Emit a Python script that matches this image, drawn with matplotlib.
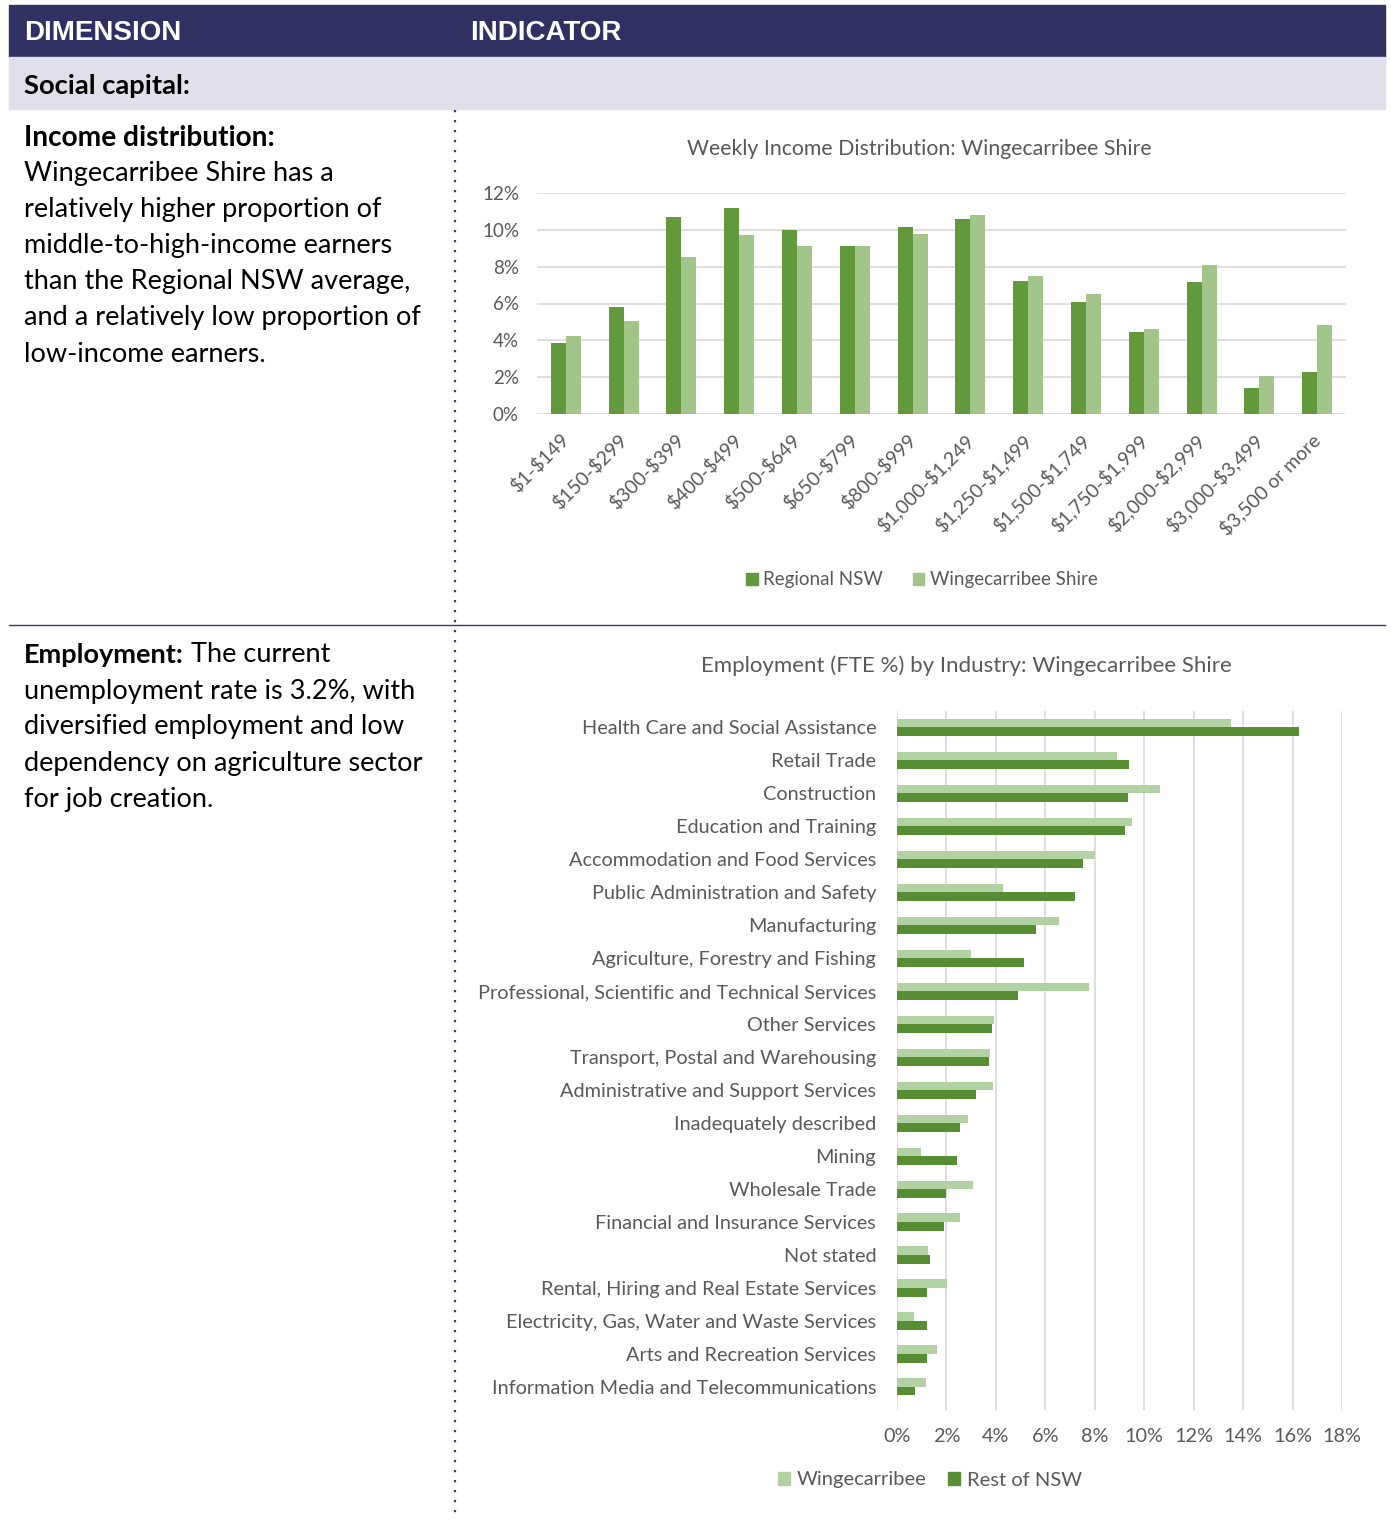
import matplotlib
matplotlib.use("Agg")
import matplotlib.pyplot as plt
import matplotlib.transforms as mtransforms
from matplotlib.patches import Patch, Rectangle
from matplotlib.lines import Line2D
import numpy as np

plt.rcParams["text.parse_math"] = False

W, H = 1391, 1520

# income data (% of households)
income_bands = ["$1-$149", "$150-$299", "$300-$399", "$400-$499", "$500-$649", "$650-$799",
                "$800-$999", "$1,000-$1,249", "$1,250-$1,499", "$1,500-$1,749", "$1,750-$1,999",
                "$2,000-$2,999", "$3,000-$3,499", "$3,500 or more"]
regional_nsw = [3.84, 5.83, 10.68, 11.2, 9.99, 9.14, 10.14, 10.59, 7.24, 6.06, 4.45, 7.15, 1.41, 2.28]
wingecarribee_shire = [4.25, 5.07, 8.52, 9.72, 9.12, 9.14, 9.77, 10.79, 7.47, 6.53, 4.60, 8.11, 2.05, 4.83]

# employment data (FTE %)
industries = ["Health Care and Social Assistance", "Retail Trade", "Construction",
              "Education and Training", "Accommodation and Food Services",
              "Public Administration and Safety", "Manufacturing",
              "Agriculture, Forestry and Fishing", "Professional, Scientific and Technical Services",
              "Other Services", "Transport, Postal and Warehousing",
              "Administrative and Support Services", "Inadequately described", "Mining",
              "Wholesale Trade", "Financial and Insurance Services", "Not stated",
              "Rental, Hiring and Real Estate Services", "Electricity, Gas, Water and Waste Services",
              "Arts and Recreation Services", "Information Media and Telecommunications"]
emp_wingecarribee = [13.5, 8.89, 10.65, 9.51, 8.02, 4.29, 6.55, 2.98, 7.75, 3.92, 3.75, 3.88,
                     2.86, 0.97, 3.06, 2.55, 1.25, 2.01, 0.67, 1.63, 1.17]
emp_rest_nsw = [16.27, 9.38, 9.35, 9.23, 7.51, 7.18, 5.61, 5.12, 4.88, 3.83, 3.71, 3.19,
                2.53, 2.43, 1.97, 1.91, 1.35, 1.23, 1.23, 1.20, 0.74]

navy = "#303062"
grey_txt = "#595959"
dark_g = "#62993d"
light_g = "#a2c58a"
emp_light = "#b3d2a3"
emp_dark = "#578e34"
body_font = "Lato"


def fx(x):
    return x / W


def fy(y):
    return 1 - y / H


def rect(l, t, r, b):
    return [l / W, 1 - b / H, (r - l) / W, (b - t) / H]


fig = plt.figure(figsize=(W / 100, H / 100), dpi=100)

# header bands
fig.patches.append(Rectangle((fx(9), fy(57)), (1385 - 9) / W, 52 / H, transform=fig.transFigure,
                             color=navy, zorder=0))
fig.patches.append(Rectangle((fx(9), fy(109)), (1385 - 9) / W, 52 / H, transform=fig.transFigure,
                             color="#dfe0e9", zorder=0))
fig.text(fx(24), fy(33), "DIMENSION", color="white", fontsize=20, fontweight="bold",
         family="Liberation Sans", va="center")
fig.text(fx(470), fy(33), "INDICATOR", color="white", fontsize=20, fontweight="bold",
         family="Liberation Sans", va="center")
fig.text(fx(24), fy(86), "Social capital:", color="black", fontsize=19.7, fontweight="bold",
         family=body_font, va="center")

# separators
fig.add_artist(Line2D([fx(455), fx(455)], [fy(110), fy(1520)], color="#3a3a7c", lw=1.6,
                      linestyle=(0, (1, 3.5))))
fig.add_artist(Line2D([fx(9), fx(1385)], [fy(625), fy(625)], color="#3a3a70", lw=1))

# left column text
fs_body = 19.5
fig.text(fx(24), fy(138), "Income distribution:", fontsize=20.2, fontweight="bold",
         family=body_font, va="center")
income_lines = ["Wingecarribee Shire has a", "relatively higher proportion of",
                "middle-to-high-income earners", "than the Regional NSW average,",
                "and a relatively low proportion of", "low-income earners."]
for i, s in enumerate(income_lines):
    fig.text(fx(24), fy(174 + 36 * i), s, fontsize=fs_body, family=body_font, va="center")

t = fig.text(fx(24), fy(655), "Employment:", fontsize=fs_body, fontweight="bold",
             family=body_font, va="center")
fig.canvas.draw()
bb = t.get_window_extent()
fig.text(bb.x1 / W, fy(655), " The current", fontsize=fs_body, family=body_font, va="center")
emp_lines = ["unemployment rate is 3.2%, with", "diversified employment and low",
             "dependency on agriculture sector", "for job creation."]
for i, s in enumerate(emp_lines):
    fig.text(fx(24), fy(691 + 36 * i), s, fontsize=fs_body, family=body_font, va="center")

# income chart
ax1 = fig.add_axes(rect(537, 193, 1346, 414))
x = np.arange(len(income_bands))
ax1.bar(x - 0.13, regional_nsw, width=0.26, color=dark_g, label="Regional NSW", zorder=3)
ax1.bar(x + 0.13, wingecarribee_shire, width=0.26, color=light_g, label="Wingecarribee Shire", zorder=3)
ax1.set_xlim(-0.5, len(income_bands) - 0.5)
ax1.set_ylim(0, 12)
ax1.set_yticks(range(0, 13, 2))
ax1.set_yticklabels([f"{v}%" for v in range(0, 13, 2)])
ax1.yaxis.grid(True, color="#d9d9d9", lw=1.2, zorder=0)
ax1.set_xticks(x)
ax1.set_xticklabels(income_bands, rotation=45, ha="right", va="top", rotation_mode="anchor")
ax1.tick_params(axis="both", length=0, labelcolor=grey_txt, labelsize=13.5)
ax1.tick_params(axis="x", pad=12, labelsize=14)
ax1.tick_params(axis="y", pad=13)
shift = mtransforms.ScaledTranslation(-6 / 100, 0, fig.dpi_scale_trans)
for lab in ax1.get_xticklabels():
    lab.set_transform(lab.get_transform() + shift)
for lab in ax1.get_xticklabels() + ax1.get_yticklabels():
    lab.set_family(body_font)
for sp in ax1.spines.values():
    sp.set_visible(False)
fig.text(fx(919), fy(149), "Weekly Income Distribution: Wingecarribee Shire", color=grey_txt,
         fontsize=15.3, family=body_font, ha="center", va="center")
fig.legend(handles=[Patch(color=dark_g, label="Regional NSW"),
                    Patch(color=light_g, label="Wingecarribee Shire")],
           loc="center", bbox_to_anchor=(fx(922), fy(580)), ncol=2, frameon=False,
           handlelength=0.6, handleheight=0.6, handletextpad=0.3, columnspacing=1.6,
           prop={"family": body_font, "size": 13.5}, labelcolor=grey_txt)

# employment chart
ax2 = fig.add_axes(rect(897, 711, 1342, 1410))
y = np.arange(len(industries))
ax2.barh(y - 0.13, emp_wingecarribee, height=0.26, color=emp_light, label="Wingecarribee", zorder=3)
ax2.barh(y + 0.13, emp_rest_nsw, height=0.26, color=emp_dark, label="Rest of NSW", zorder=3)
ax2.set_ylim(len(industries) - 0.3, -0.5)
ax2.set_xlim(0, 18)
ax2.set_xticks(range(0, 19, 2))
ax2.set_xticklabels([f"{v}%" for v in range(0, 19, 2)])
ax2.xaxis.grid(True, color="#d9d9d9", lw=1.2, zorder=0)
ax2.set_yticks(y)
ax2.set_yticklabels(industries)
ax2.tick_params(axis="both", length=0, labelcolor=grey_txt, labelsize=14.3)
ax2.tick_params(axis="x", pad=13)
ax2.tick_params(axis="y", pad=15)
for lab in ax2.get_xticklabels() + ax2.get_yticklabels():
    lab.set_family(body_font)
for sp in ax2.spines.values():
    sp.set_visible(False)
fig.text(fx(966), fy(666), "Employment (FTE %) by Industry: Wingecarribee Shire", color=grey_txt,
         fontsize=16, family=body_font, ha="center", va="center")
fig.legend(handles=[Patch(color=emp_light, label="Wingecarribee"),
                    Patch(color=emp_dark, label="Rest of NSW")],
           loc="center", bbox_to_anchor=(fx(930), fy(1480)), ncol=2, frameon=False,
           handlelength=0.6, handleheight=0.6, handletextpad=0.3, columnspacing=1.1,
           prop={"family": body_font, "size": 14.5}, labelcolor=grey_txt)

fig.savefig("out.png", dpi=100)
